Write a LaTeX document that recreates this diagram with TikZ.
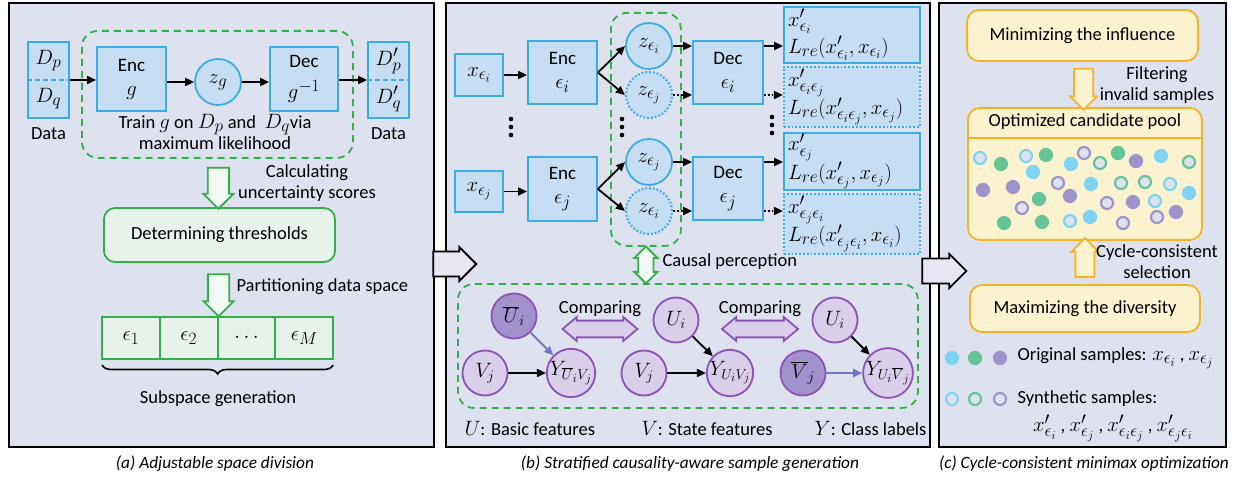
\documentclass[tikz,border=0pt]{standalone}
\usepackage{fontspec}
\setmainfont{Carlito}
\usepackage{tikz}
\usetikzlibrary{arrows.meta, positioning, calc, shapes.arrows, decorations.pathreplacing}
\DeclareMathSizes{18.5}{21.5}{16}{13}
\DeclareMathSizes{19}{22}{16.5}{13}
\DeclareMathSizes{17}{19.5}{14.5}{11.5}
\definecolor{panelbg}{HTML}{DDE2EE}
\definecolor{encblue}{HTML}{3AAEE2}
\definecolor{encfill}{HTML}{C5DEF4}
\definecolor{grn}{HTML}{34B04B}
\definecolor{grnfill}{HTML}{E6F2EA}
\definecolor{grnarr}{HTML}{F2F8F3}
\definecolor{vio}{HTML}{8C52B6}
\definecolor{viofill}{HTML}{D9CFEB}
\definecolor{viodark}{HTML}{A192CD}
\definecolor{vioarr}{HTML}{7076C6}
\definecolor{ylw}{HTML}{F5B427}
\definecolor{ylwfill}{HTML}{FBF2CF}
\definecolor{dotb}{HTML}{7FD3F2}
\definecolor{dotg}{HTML}{66C497}
\definecolor{dotp}{HTML}{9D94CB}
\definecolor{arrfill}{HTML}{E8E6F1}
\tikzset{
  txt/.style   ={font=\fontsize{18.5}{21}\selectfont},
  capt/.style  ={font=\fontsize{17.3}{20}\selectfont\itshape},
  panel/.style ={draw=black, line width=1.8pt, fill=panelbg, anchor=north west, inner sep=0pt},
  bbox/.style  ={draw=encblue, line width=1.8pt, fill=encfill, align=center, inner sep=0pt, font=\fontsize{19}{24}\selectfont},
  obox/.style  ={bbox, minimum width=136pt, text width=128pt, inner xsep=4pt, align=left, font=\fontsize{18.5}{27}\selectfont},
  odot/.style  ={obox, dotted, line width=2.2pt},
  zc/.style    ={draw=encblue, circle, line width=1.8pt, fill=encfill, minimum size=46pt, inner sep=0pt, font=\fontsize{19}{23}\selectfont},
  zdot/.style  ={zc, dotted, line width=2.2pt},
  gdash/.style ={draw=grn, dash pattern=on 7pt off 5pt, line width=1.8pt, rounded corners=16pt, inner sep=0pt, anchor=north west},
  gbox/.style  ={draw=grn, line width=1.8pt, fill=grnfill, rounded corners=11pt, txt},
  cell/.style  ={draw=grn, line width=1.8pt, fill=grnfill, minimum width=57.75pt, minimum height=42pt, inner sep=0pt, outer sep=0pt, font=\fontsize{19}{23}\selectfont},
  vc/.style    ={draw=vio, circle, line width=1.8pt, fill=viofill, minimum size=45pt, inner sep=0pt, font=\fontsize{17}{20}\selectfont},
  vcd/.style   ={vc, fill=viodark},
  ybox/.style  ={draw=ylw, line width=1.8pt, fill=ylwfill, rounded corners=12pt, inner sep=0pt, txt},
  dsep/.style  ={encblue, dash pattern=on 5pt off 3pt, line width=1.5pt},
  conn/.style  ={-{Triangle[length=9pt, width=8pt]}, line width=1.8pt},
  cdot/.style  ={conn, dotted},
  hollow/.style={single arrow, line width=1.8pt, inner xsep=0pt, single arrow head extend=3pt},
  dhollow/.style={double arrow, line width=1.8pt, inner xsep=0pt, double arrow head extend=3pt},
  garrow/.style={hollow, draw=grn, fill=grnarr, inner ysep=6.5pt, minimum width=30pt},
  yarrow/.style={hollow, draw=ylw, fill=ylwfill, inner ysep=6.5pt, minimum width=27pt},
  parrow/.style={hollow, draw=black, fill=arrfill, inner ysep=7.5pt, minimum width=34pt},
  gdarrow/.style={dhollow, draw=grn, fill=grnarr, inner ysep=5pt, minimum width=23pt},
  vdarrow/.style={dhollow, draw=vio, fill=viofill, inner ysep=6pt, minimum width=24pt, double arrow tip angle=80},
  brace/.style ={decorate, decoration={brace, mirror, amplitude=9pt}, line width=1.6pt},
  smp/.style   ={circle, line width=2.2pt, minimum size=12pt, inner sep=0pt},
  vdts/.pic    ={\foreach \d in {-8,0,8} \fill (0,\d) circle (2.3pt);},
}
\begin{document}
\begin{tikzpicture}[x=1pt, y=-1pt]
  \useasboundingbox (0,0) rectangle (1241,478);
  \fill[white] (0,0) rectangle (1241,478);
  \node[panel, minimum width=425pt, minimum height=444pt] (pa) at (8,2) {};
  \node[panel, minimum width=484pt, minimum height=444pt] (pb) at (445,2) {};
  \node[panel, minimum width=287pt, minimum height=444pt] (pc) at (938,2) {};

  % (a)
  \node[bbox, minimum width=41pt, minimum height=76pt] (din) at (48.5,80) {};
  \draw[dsep] (din.west) -- (din.east);
  \node[txt] (dp) at ([yshift=19pt]din.center) {$D_p$};
  \node[txt] (dq) at ([yshift=-19pt]din.center) {$D_q$};
  \node[txt, below=5pt of din] (datain) {Data};
  \node[gdash, minimum width=271pt, minimum height=127pt] (train) at (81,30) {};
  \node[bbox, minimum width=69pt, minimum height=64pt] (encg) at (131.5,79) {Enc\\$g$};
  \node[zc] (zg) at (218,82) {$z_g$};
  \node[bbox, minimum width=68pt, minimum height=64pt] (decg) at (304,79) {Dec\\[7pt]$g^{-1}$};
  \node[bbox, minimum width=41pt, minimum height=76pt] (dout) at (388.5,80) {};
  \draw[dsep] (dout.west) -- (dout.east);
  \node[txt] (dpp) at ([yshift=19pt]dout.center) {$D'_p$};
  \node[txt] (dqq) at ([yshift=-19pt]dout.center) {$D'_q$};
  \node[txt, below=5pt of dout] (dataout) {Data};
  \draw[conn] (din.east) -- (din.east -| encg.west);
  \draw[conn] (encg.east |- zg) -- (zg.west);
  \draw[conn] (zg.east) -- (zg.east -| decg.west);
  \draw[conn] (decg.east |- din.east) -- (dout.west);
  \node[txt, align=center] (traintxt) at (215,132) {Train $g$ on $D_p$ and\ \ $D_q$via\\maximum likelihood};
  \node[gbox, minimum width=231pt, minimum height=54pt] (thr) at (219.5,235) {Determining thresholds};
  \node[garrow, rotate=-90, minimum height=41pt] (ga1) at ($(train.south)!0.5!(thr.north)$) {};
  \node[txt, align=center] (calc) at (307,183) {Calculating\\uncertainty scores};
  \node[cell] (e1) at (131,338) {$\epsilon_1$};
  \node[cell, right=0pt of e1] (e2) {$\epsilon_2$};
  \node[cell, right=0pt of e2] (e3) {$\cdots$};
  \node[cell, right=0pt of e3] (e4) {$\epsilon_M$};
  \node[garrow, rotate=-90, minimum height=42pt] (ga2) at ($(thr.south)!0.5!(e2.north east)$) {};
  \node[txt, anchor=west] (parttxt) at (233,287) {Partitioning data space};
  \draw[brace] ([yshift=-6pt]e1.south west) -- ([yshift=-6pt]e4.south east);
  \node[txt] (subsp) at (218,399) {Subspace generation};

  % (b)
  \node[bbox, minimum width=48pt, minimum height=42pt] (xi) at (479,75) {$x_{\epsilon_i}$};
  \node[bbox, minimum width=69pt, minimum height=63pt] (enci) at (562.5,72.5) {Enc\\$\epsilon_i$};
  \node[bbox, minimum width=48pt, minimum height=41pt] (xj) at (479,191.5) {$x_{\epsilon_j}$};
  \node[bbox, minimum width=69pt, minimum height=64pt] (encj) at (562.5,189) {Enc\\$\epsilon_j$};
  \pic (vd1) at (511,127) {vdts};
  \node[gdash, minimum width=70pt, minimum height=233pt] (zgrp) at (610,12) {};
  \node[zc] (zii) at (649,46) {$z_{\epsilon_i}$};
  \node[zdot] (zij) at (649,95) {$z_{\epsilon_j}$};
  \pic (vd2) at (622,127) {vdts};
  \node[zc] (zjj) at (649,162) {$z_{\epsilon_j}$};
  \node[zdot] (zji) at (649,211) {$z_{\epsilon_i}$};
  \node[bbox, minimum width=70pt, minimum height=63pt] (deci) at (728,72.5) {Dec\\$\epsilon_i$};
  \node[bbox, minimum width=70pt, minimum height=63pt] (decj) at (728,188.5) {Dec\\$\epsilon_j$};
  \node[obox, minimum height=56pt] (oi) at (852,35) {$x'_{\epsilon_i}$\\$L_{re}(x'_{\epsilon_i},x_{\epsilon_i})$};
  \node[odot, minimum height=60pt] (oij) at (852,97) {$x'_{\epsilon_i\epsilon_j}$\\$L_{re}(x'_{\epsilon_i\epsilon_j},x_{\epsilon_j})$};
  \node[obox, minimum height=57pt] (oj) at (852,161.5) {$x'_{\epsilon_j}$\\$L_{re}(x'_{\epsilon_j},x_{\epsilon_j})$};
  \node[odot, minimum height=60pt] (oji) at (852,224) {$x'_{\epsilon_j\epsilon_i}$\\$L_{re}(x'_{\epsilon_j\epsilon_i},x_{\epsilon_i})$};
  \pic (vd3) at (772,125) {vdts};
  \draw[conn] (xi.east) -- (xi.east -| enci.west);
  \draw[conn] (xj.east) -- (xj.east -| encj.west);
  \draw[conn] (enci.east) -- (zii.west);
  \draw[conn] (enci.east) -- (zij.west);
  \draw[conn] (encj.east) -- (zjj.west);
  \draw[conn] (encj.east) -- (zji.west);
  \draw[conn] (zii.east) -- (zii.east -| deci.west);
  \draw[cdot] (zij.east) -- (zij.east -| deci.west);
  \draw[conn] (zjj.east) -- (zjj.east -| decj.west);
  \draw[cdot] (zji.east) -- (zji.east -| decj.west);
  \draw[conn] (zii -| deci.east) -- (zii -| oi.west);
  \draw[cdot] (zij -| deci.east) -- (zij -| oij.west);
  \draw[conn] (zjj -| decj.east) -- (zjj -| oj.west);
  \draw[cdot] (zji -| decj.east) -- (zji -| oji.west);

  \node[gdash, minimum width=460pt, minimum height=124pt] (cgrp) at (457,283) {};
  \node[gdarrow, rotate=90, minimum height=37pt] (gd) at ($(zgrp.south)!0.5!(zgrp.south |- cgrp.north)$) {};
  \node[txt, anchor=west] (causal) at (659,262) {Causal perception};
  \node[vcd] (ub1) at (514,316) {$\overline{U}_i$};
  \node[vc] (v1) at (485,373) {$V_j$};
  \node[vc] (y1) at (571,373) {$Y_{\overline{U}_i V_j}$};
  \node[vc] (u2) at (676,320) {$U_i$};
  \node[vc] (v2) at (644,373) {$V_j$};
  \node[vc] (y2) at (730,373) {$Y_{U_i V_j}$};
  \node[vc] (u3) at (835,320) {$U_i$};
  \node[vcd] (vb3) at (803,373) {$\overline{V}_j$};
  \node[vc] (y3) at (888,373) {$Y_{U_i \overline{V}_j}$};
  \draw[conn, vioarr] (ub1) -- (y1);
  \draw[conn] (v1) -- (y1);
  \draw[conn] (u2) -- (y2);
  \draw[conn] (v2) -- (y2);
  \draw[conn] (u3) -- (y3);
  \draw[conn, vioarr] (vb3) -- (y3);
  \node[vdarrow, minimum height=75pt] (cmp1) at (600,329) {};
  \node[txt, above=0pt of cmp1] (cmpt1) {Comparing};
  \node[vdarrow, minimum height=76pt] (cmp2) at (760,329) {};
  \node[txt, above=0pt of cmp2] (cmpt2) {Comparing};
  \node[txt, anchor=west] (lu) at (461,428) {$U$: Basic features};
  \node[txt, anchor=west] (lv) at (638,428) {$V$: State features};
  \node[txt, anchor=west] (ly) at (811,428) {$Y$: Class labels};

  % (c)
  \node[ybox, minimum width=231pt, minimum height=51pt] (minb) at (1082.5,35.5) {Minimizing the influence};
  \node[ybox, minimum width=234pt, minimum height=132pt, anchor=north west] (pool) at (967,107) {};
  \node[txt, below=3pt of pool.north] (pooltl) {Optimized candidate pool};
  \coordinate (psep) at ([yshift=-31pt]pool.north);
  \draw[ylw, line width=1.8pt] (psep -| pool.west) -- (psep -| pool.east);
  \node[yarrow, rotate=-90, minimum height=41pt] (ya1) at ($(minb.south)!0.5!(pool.north)$) {};
  \node[txt, align=center] (filt) at (1157,85) {Filtering\\invalid samples};
  \node[ybox, minimum width=230pt, minimum height=47pt] (maxb) at (1085,308.5) {Maximizing the diversity};
  \node[yarrow, rotate=90, minimum height=39pt] (ya2) at ($(maxb.north)!0.5!(pool.south)$) {};
  \node[txt, align=center] (cyc) at (1157,262) {Cycle-consistent\\selection};
  \foreach \x/\y/\c/\f [count=\n] in {
      980/158/dotb/panelbg, 1001/164/dotg/dotg, 1026/156/dotb/panelbg, 1046/155/dotg/dotg,
      1033/172/dotb/dotb, 1071/164/dotb/dotb, 1084/153/dotp/panelbg, 1100/163/dotg/panelbg,
      1118/153/dotg/dotg, 1136/161/dotp/dotp, 1161/156/dotb/dotb, 1189/162/dotg/panelbg,
      983/190/dotp/dotp, 1013/187/dotp/dotp, 1058/183/dotp/panelbg, 1091/184/dotb/dotb,
      1121/183/dotg/panelbg, 1145/182/dotg/panelbg, 1170/184/dotb/panelbg, 1189/193/dotb/dotb,
      1022/208/dotp/panelbg, 1039/199/dotg/dotg, 1070/196/dotp/dotp, 1107/203/dotp/panelbg,
      1133/202/dotp/dotp, 1155/201/dotb/panelbg, 1176/212/dotp/dotp, 1004/223/dotg/dotg,
      1042/222/dotg/dotg, 1070/221/dotb/panelbg, 1090/217/dotb/dotb, 1123/223/dotp/panelbg,
      1157/217/dotp/panelbg}
    \node[smp, draw=\c, fill=\f] (s\n) at (\x,\y) {};
  \foreach \x/\c [count=\n] in {952/dotb, 975/dotg, 1000/dotp} {
    \node[smp, draw=\c, fill=\c] (lf\n) at (\x,358) {};
    \node[smp, draw=\c, fill=panelbg] (lo\n) at (\x,399) {};
  }
  \node[txt, anchor=west] (orig) at (1014,358) {Original samples: $x_{\epsilon_i}$ , $x_{\epsilon_j}$};
  \node[txt, anchor=west] (synt) at (1014,399) {Synthetic samples:};
  \node[txt] (syntx) at (1113,428) {$x'_{\epsilon_i}$ ,\ $x'_{\epsilon_j}$ , $x'_{\epsilon_i\epsilon_j}$ ,\ $x'_{\epsilon_j\epsilon_i}$};

  \node[parrow, minimum height=43pt] (pab) at (448.5,264) {};
  \node[parrow, minimum height=44pt] (pbc) at (938,271) {};

  \node[capt] (capa) at (215,464) {(a) Adjustable space division};
  \node[capt] (capb) at (690,464) {(b) Stratified causality-aware sample generation};
  \node[capt] (capc) at (1084,464) {(c) Cycle-consistent minimax optimization};
\end{tikzpicture}
\end{document}
